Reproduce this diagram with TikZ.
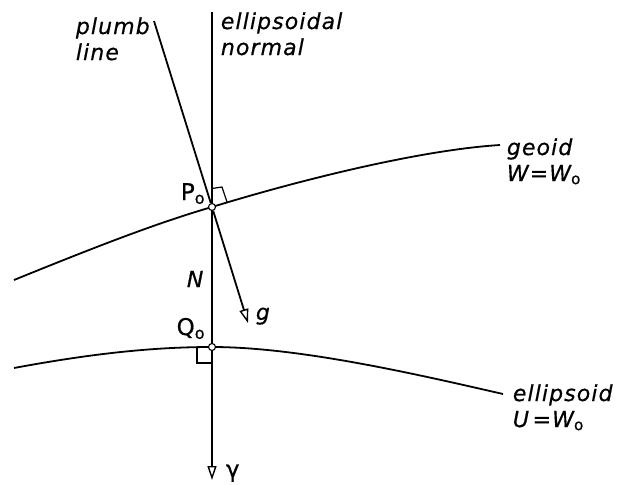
\documentclass[tikz,border=0pt]{standalone}
\usepackage{amsmath}
\usepackage{fontspec}
\newfontfamily\labfont[LetterSpace=5, FakeBold=0.6]{DejaVu Sans}
\usetikzlibrary{arrows.meta, calc}

\begin{document}
\begin{tikzpicture}[x=1pt, y=-1pt, line width=1.8pt,
  lbl/.style={font=\labfont\itshape\fontsize{22}{26}\selectfont, inner sep=0pt, align=left},
  pt/.style={font=\labfont\fontsize{23}{26}\selectfont, inner sep=0pt},
  station/.style={circle, draw, fill=white, line width=1.1pt, inner sep=0pt, minimum size=7pt},
  vec/.style={-{Triangle[open, length=14pt, width=9pt, line width=1.4pt]}},
  rmark/.style={line width=1.2pt}]
  \useasboundingbox (0,0) rectangle (619,485);
  % geoid (curved, through P0)
  \draw (14,280) .. controls (100,245) and (160,222) .. (212,207)
        .. controls (300,180) and (420,150) .. (500,145);
  % ellipsoid (flatter, top at Q0)
  \draw (14,368) .. controls (100,352) and (160,347) .. (212,347)
        .. controls (300,347) and (420,375) .. (503,394);
  % points on the surfaces
  \node[station] (P0) at (212,207) {};
  \node[station] (Q0) at (212,347) {};
  \coordinate (ntop) at (212,12);
  \coordinate (nbot) at (212,480);
  \coordinate (ptop) at (154,21);
  \coordinate (gtip) at (248,323);
  % ellipsoidal normal and plumb line
  \draw (ntop) -- (P0);
  \draw (P0) -- (Q0);
  \draw[vec] (Q0) -- (nbot);
  \draw (ptop) -- (P0);
  \draw[vec] (P0) -- (gtip);
  % right angles
  \draw[rmark] ($(P0)+(15,-5)$) -- ($(P0)+(10,-20)$) -- ($(P0)+(0,-18.5)$);
  \draw[rmark] ($(Q0)+(-15,0.5)$) -- ($(Q0)+(-15,16)$) -- ($(Q0)+(0,16)$);
  % labels (base = last line)
  \node[lbl, anchor=base west] (plumb) at (75,60) {plumb\\line};
  \node[lbl, anchor=base west] (enorm) at (220,55) {ellipsoidal\\normal};
  \node[lbl, anchor=base west] (geoid) at (506,181) {geoid\\W=W$_\text{\upshape o}$};
  \node[lbl, anchor=base west] (ellip) at (512,427) {ellipsoid\\U\,=W$_\text{\upshape o}$};
  \node[lbl, anchor=base west] (N) at (186,287) {N};
  \node[lbl, anchor=base west] (g) at (255,320) {g};
  \node[pt, anchor=base east] (P0lab) at (206,200) {P$_\text{o}$};
  \node[pt, anchor=base east] (Q0lab) at (206,335) {Q$_\text{o}$};
  \node[pt, anchor=base west] (gam) at (225,477) {γ};
\end{tikzpicture}
\end{document}
